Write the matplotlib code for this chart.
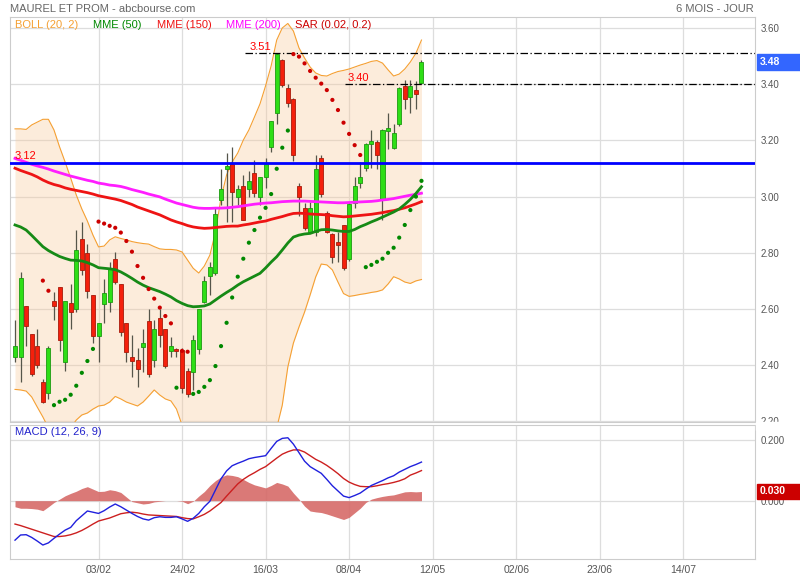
import matplotlib
matplotlib.use('Agg')
import matplotlib.pyplot as plt
import numpy as np
from matplotlib.patches import Rectangle

plt.rcParams['font.family'] = ['Liberation Sans', 'DejaVu Sans']

# === Daily candles (MAUREL ET PROM) ===
opens = [2.43, 2.43, 2.61, 2.51, 2.47, 2.34, 2.30, 2.63, 2.68, 2.41,
         2.62, 2.60, 2.85, 2.80, 2.65, 2.505, 2.617, 2.626, 2.778, 2.689,
         2.549, 2.428, 2.417, 2.466, 2.556, 2.417, 2.568, 2.528, 2.449, 2.457,
         2.454, 2.38, 2.377, 2.457, 2.626, 2.717, 2.727, 2.988, 3.097, 3.116,
         2.998, 3.037, 3.026, 3.085, 2.998, 3.069, 3.175, 3.296, 3.486, 3.385,
         3.346, 3.037, 2.958, 2.875, 2.875, 3.136, 2.943, 2.866, 2.84, 2.899,
         2.777, 2.976, 3.047, 3.10, 3.186, 3.196, 2.988, 3.235, 3.174, 3.258,
         3.394, 3.355, 3.38, 3.405]
highs = [2.56, 2.73, 2.61, 2.51, 2.53, 2.35, 2.47, 2.66, 2.68, 2.63,
         2.69, 2.88, 2.91, 2.83, 2.65, 2.55, 2.707, 2.768, 2.804, 2.69,
         2.55, 2.507, 2.46, 2.528, 2.60, 2.56, 2.60, 2.53, 2.50, 2.46,
         2.46, 2.39, 2.507, 2.60, 2.717, 2.766, 2.958, 3.097, 3.156, 3.175,
         3.04, 3.077, 3.09, 3.13, 3.07, 3.136, 3.27, 3.51, 3.49, 3.40,
         3.35, 3.05, 2.976, 2.98, 3.148, 3.148, 2.95, 2.87, 2.875, 2.90,
         2.98, 3.071, 3.124, 3.19, 3.237, 3.20, 3.24, 3.296, 3.26, 3.39,
         3.415, 3.415, 3.41, 3.487]
lows = [2.41, 2.34, 2.47, 2.36, 2.39, 2.265, 2.28, 2.56, 2.45, 2.38,
        2.53, 2.59, 2.72, 2.64, 2.48, 2.41, 2.551, 2.59, 2.69, 2.505,
        2.413, 2.359, 2.323, 2.377, 2.359, 2.395, 2.466, 2.39, 2.43, 2.43,
        2.30, 2.288, 2.312, 2.44, 2.62, 2.65, 2.72, 2.97, 2.911, 2.911,
        2.97, 2.917, 3.0, 3.0, 2.97, 3.03, 3.16, 3.26, 3.39, 3.32,
        3.128, 2.93, 2.88, 2.87, 2.86, 3.0, 2.87, 2.763, 2.768, 2.74,
        2.77, 2.96, 3.03, 3.09, 3.10, 3.097, 2.917, 3.17, 3.17, 3.25,
        3.31, 3.296, 3.31, 3.40]
closes = [2.47, 2.71, 2.54, 2.37, 2.40, 2.27, 2.46, 2.61, 2.49, 2.63,
          2.59, 2.81, 2.74, 2.665, 2.505, 2.55, 2.656, 2.746, 2.697, 2.517,
          2.448, 2.416, 2.388, 2.478, 2.368, 2.528, 2.506, 2.397, 2.468, 2.45,
          2.318, 2.296, 2.489, 2.60, 2.70, 2.748, 2.938, 3.026, 3.109, 3.015,
          3.026, 2.917, 3.057, 3.014, 3.069, 3.116, 3.269, 3.507, 3.397, 3.334,
          3.148, 2.997, 2.887, 2.958, 3.097, 3.009, 2.875, 2.786, 2.828, 2.747,
          2.973, 3.038, 3.071, 3.186, 3.198, 3.148, 3.237, 3.245, 3.225, 3.385,
          3.346, 3.394, 3.365, 3.478]

# === Indicators ===
boll_up = [3.241, 3.241, 3.239, 3.255, 3.265, 3.275, 3.275, 3.237, 3.177, 3.123,
           3.066, 3.006, 2.956, 2.913, 2.863, 2.821, 2.824, 2.846, 2.857, 2.851,
           2.846, 2.840, 2.836, 2.833, 2.831, 2.822, 2.814, 2.812, 2.812, 2.810,
           2.803, 2.774, 2.745, 2.728, 2.753, 2.792, 2.874, 2.995, 3.077, 3.123,
           3.155, 3.201, 3.237, 3.283, 3.330, 3.394, 3.465, 3.557, 3.600, 3.616,
           3.589, 3.529, 3.493, 3.461, 3.440, 3.431, 3.429, 3.438, 3.445, 3.449,
           3.454, 3.461, 3.468, 3.474, 3.481, 3.484, 3.475, 3.451, 3.429, 3.436,
           3.454, 3.479, 3.510, 3.557]
boll_low = [2.314, 2.312, 2.308, 2.287, 2.251, 2.216, 2.177, 2.152, 2.141, 2.152,
            2.177, 2.205, 2.223, 2.230, 2.244, 2.255, 2.258, 2.269, 2.289, 2.280,
            2.269, 2.262, 2.255, 2.269, 2.290, 2.312, 2.294, 2.280, 2.273, 2.244,
            2.187, 2.134, 2.10, 2.07, 2.05, 2.04, 2.00, 1.95, 1.90, 1.88,
            1.87, 1.87, 1.88, 1.90, 1.93, 1.98, 2.05, 2.177, 2.258, 2.394,
            2.479, 2.536, 2.589, 2.650, 2.714, 2.760, 2.757, 2.739, 2.696, 2.655,
            2.645, 2.648, 2.652, 2.655, 2.659, 2.662, 2.668, 2.689, 2.715, 2.707,
            2.696, 2.691, 2.700, 2.705]
mme50 = [2.899, 2.892, 2.881, 2.862, 2.842, 2.822, 2.808, 2.797, 2.787, 2.780,
         2.774, 2.773, 2.771, 2.765, 2.757, 2.747, 2.745, 2.743, 2.740, 2.732,
         2.721, 2.709, 2.696, 2.685, 2.676, 2.669, 2.662, 2.653, 2.643, 2.630,
         2.620, 2.612, 2.608, 2.609, 2.611, 2.618, 2.632, 2.646, 2.659, 2.671,
         2.685, 2.697, 2.707, 2.717, 2.727, 2.746, 2.767, 2.786, 2.810, 2.835,
         2.856, 2.863, 2.867, 2.869, 2.876, 2.882, 2.883, 2.881, 2.878, 2.876,
         2.876, 2.883, 2.893, 2.901, 2.910, 2.918, 2.927, 2.936, 2.945, 2.956,
         2.972, 2.990, 3.011, 3.035]
mme150 = [3.101, 3.093, 3.086, 3.079, 3.070, 3.059, 3.050, 3.043, 3.038, 3.031,
          3.026, 3.022, 3.018, 3.014, 3.009, 3.003, 2.999, 2.995, 2.991, 2.986,
          2.979, 2.972, 2.963, 2.956, 2.949, 2.942, 2.935, 2.926, 2.917, 2.910,
          2.904, 2.897, 2.892, 2.889, 2.887, 2.888, 2.890, 2.892, 2.894, 2.895,
          2.895, 2.899, 2.902, 2.906, 2.910, 2.913, 2.919, 2.924, 2.929, 2.935,
          2.940, 2.941, 2.940, 2.938, 2.937, 2.936, 2.935, 2.932, 2.930, 2.928,
          2.929, 2.931, 2.933, 2.935, 2.937, 2.940, 2.943, 2.947, 2.950, 2.955,
          2.960, 2.967, 2.974, 2.982]
mme200 = [3.136, 3.129, 3.122, 3.115, 3.109, 3.104, 3.098, 3.091, 3.085, 3.079,
          3.073, 3.068, 3.063, 3.058, 3.054, 3.048, 3.045, 3.041, 3.039, 3.036,
          3.031, 3.025, 3.020, 3.015, 3.009, 3.004, 2.999, 2.991, 2.984, 2.977,
          2.972, 2.967, 2.962, 2.959, 2.958, 2.958, 2.959, 2.959, 2.960, 2.962,
          2.964, 2.967, 2.970, 2.973, 2.975, 2.977, 2.978, 2.980, 2.982, 2.983,
          2.984, 2.984, 2.984, 2.983, 2.982, 2.981, 2.980, 2.979, 2.978, 2.978,
          2.979, 2.980, 2.981, 2.982, 2.983, 2.985, 2.988, 2.990, 2.993, 2.997,
          3.001, 3.005, 3.008, 3.012]
# SAR starts at candle 5
sar_start = 5
sar = [2.701, 2.665, 2.258, 2.270, 2.277, 2.295, 2.327, 2.373, 2.415, 2.458,
       2.911, 2.904, 2.896, 2.889, 2.872, 2.842, 2.804, 2.753, 2.711, 2.671,
       2.637, 2.605, 2.575, 2.549, 2.320, 2.451, 2.448, 2.298, 2.305, 2.323,
       2.347, 2.397, 2.468, 2.551, 2.641, 2.715, 2.779, 2.836, 2.881, 2.925,
       2.960, 3.009, 3.099, 3.174, 3.235, 3.507, 3.498, 3.474, 3.447, 3.423,
       3.402, 3.379, 3.344, 3.308, 3.263, 3.223, 3.183, 3.148, 2.749, 2.757,
       2.768, 2.779, 2.800, 2.818, 2.854, 2.899, 2.952, 3.000, 3.056]

macd = [-0.130, -0.113, -0.112, -0.121, -0.133, -0.146, -0.139, -0.124, -0.110, -0.097,
        -0.088, -0.066, -0.050, -0.034, -0.038, -0.042, -0.033, -0.021, -0.011, -0.020,
        -0.031, -0.042, -0.052, -0.060, -0.064, -0.056, -0.053, -0.055, -0.055, -0.053,
        -0.060, -0.068, -0.058, -0.042, -0.020, -0.002, 0.035, 0.072, 0.098, 0.115,
        0.123, 0.130, 0.138, 0.142, 0.145, 0.148, 0.172, 0.195, 0.205, 0.207,
        0.186, 0.158, 0.130, 0.112, 0.101, 0.090, 0.070, 0.049, 0.032, 0.015,
        0.010, 0.017, 0.025, 0.038, 0.050, 0.058, 0.066, 0.075, 0.082, 0.094,
        0.103, 0.112, 0.119, 0.127]
signal = [-0.077, -0.082, -0.088, -0.094, -0.100, -0.106, -0.112, -0.118, -0.118, -0.116,
          -0.112, -0.106, -0.098, -0.088, -0.077, -0.067, -0.062, -0.057, -0.050, -0.043,
          -0.040, -0.038, -0.040, -0.044, -0.047, -0.048, -0.049, -0.050, -0.051, -0.052,
          -0.056, -0.059, -0.060, -0.053, -0.045, -0.034, -0.020, -0.006, 0.015, 0.035,
          0.055, 0.070, 0.082, 0.092, 0.103, 0.112, 0.126, 0.140, 0.153, 0.161,
          0.167, 0.167, 0.160, 0.148, 0.136, 0.127, 0.116, 0.103, 0.089, 0.073,
          0.061, 0.053, 0.047, 0.046, 0.046, 0.049, 0.053, 0.056, 0.060, 0.065,
          0.072, 0.084, 0.091, 0.099]
hist = [-0.020, -0.025, -0.025, -0.026, -0.028, -0.033, -0.020, -0.006, 0.005, 0.016,
        0.024, 0.031, 0.040, 0.046, 0.038, 0.030, 0.031, 0.036, 0.033, 0.027,
        0.012, -0.003, -0.007, -0.011, -0.009, -0.004, -0.002, 0.000, 0.000, 0.000,
        -0.002, -0.010, -0.002, 0.015, 0.030, 0.050, 0.066, 0.078, 0.085, 0.083,
        0.079, 0.070, 0.060, 0.052, 0.047, 0.042, 0.050, 0.060, 0.055, 0.048,
        0.025, 0.005, -0.018, -0.034, -0.037, -0.039, -0.044, -0.050, -0.056, -0.062,
        -0.055, -0.040, -0.025, -0.006, 0.005, 0.010, 0.014, 0.017, 0.019, 0.024,
        0.029, 0.030, 0.029, 0.030]

# === Axis labels / levels ===
tick_idx = [15, 30, 45, 60, 75, 90, 105, 120]
tick_labels = ["03/02", "24/02", "16/03", "08/04", "12/05", "02/06", "23/06", "14/07"]
price_ticks = [2.20, 2.40, 2.60, 2.80, 3.00, 3.20, 3.40, 3.60]
macd_ticks = [0.0, 0.2]
level_blue = 3.12
level_high = 3.51
level_mid = 3.40
last_price = 3.48
last_macd = 0.030

W, H = 800, 580
def fx(px): return px / W
def fy(py): return 1 - py / H

fig = plt.figure(figsize=(8, 5.8), dpi=100)
ax = fig.add_axes([fx(10), fy(422), fx(745), 405 / H])
axm = fig.add_axes([fx(10), fy(559), fx(745), 134 / H])

x = np.arange(len(closes))
o, h, l, c = map(np.array, (opens, highs, lows, closes))
xmin, xmax = -0.9, 132.9

for a in (ax, axm):
    a.set_xlim(xmin, xmax)
    a.set_axisbelow(True)
    a.grid(True, color='#dddddd', lw=0.9)
    for s in a.spines.values():
        s.set_color('#cccccc')
    a.yaxis.tick_right()
    a.tick_params(axis='y', length=0, pad=4, labelsize=7, labelcolor='#555555')
    a.set_xticks(tick_idx)

# === Price panel ===
ax.set_ylim(2.198, 3.639)
ax.set_yticks(price_ticks)
ax.set_yticklabels(["%.2f" % v for v in price_ticks])
ax.tick_params(axis='x', length=0, labelbottom=False)

ax.fill_between(x, boll_low, boll_up, color='#f9c999', alpha=0.35, lw=0, zorder=1)
ax.plot(x, boll_up, color='#f5a033', lw=0.8, zorder=1.5)
ax.plot(x, boll_low, color='#f5a033', lw=0.8, zorder=1.5)

up = c >= o
ax.vlines(x, l, h, color='#55554a', lw=0.9, zorder=2.8)
body = np.maximum(np.abs(c - o), 0.004)
ax.bar(x[up], body[up], bottom=np.minimum(o, c)[up], width=0.72,
       color='#2ede16', edgecolor='#1c9a10', lw=0.6, zorder=3)
ax.bar(x[~up], body[~up], bottom=np.minimum(o, c)[~up], width=0.72,
       color='#f4200c', edgecolor='#a81a0a', lw=0.6, zorder=3)

ax.plot(x, mme200, color='#ff1eff', lw=2, zorder=3.5)
ax.plot(x, mme150, color='#ee1414', lw=2, zorder=3.5)
ax.plot(x, mme50, color='#168a16', lw=2, zorder=3.5)

sx = np.arange(sar_start, sar_start + len(sar))
sv = np.array(sar)
sar_col = np.where(sv < c[sx], '#008800', '#cc0000')
ax.scatter(sx, sv, s=9, c=sar_col, lw=0, zorder=5)

ax.axhline(level_blue, color='#0000ff', lw=2, zorder=4)
ax.text(0, level_blue + 0.012, "%.2f" % level_blue, color='#ff0000', fontsize=8, zorder=6)
dashdot = (0, (6, 2, 1, 2))
ax.hlines(level_high, 41.3, xmax, colors='black', lw=0.9, linestyles=[dashdot], zorder=4)
ax.text(42.2, level_high + 0.01, "%.2f" % level_high, color='#ff0000', fontsize=8, zorder=6)
ax.hlines(level_mid, 59.3, xmax, colors='black', lw=0.9, linestyles=[dashdot], zorder=4)
ax.text(59.8, level_mid + 0.01, "%.2f" % level_mid, color='#ff0000', fontsize=8, zorder=6)

# === MACD panel ===
axm.set_ylim(-0.192, 0.249)
axm.set_yticks(macd_ticks)
axm.set_yticklabels(["%.3f" % v for v in macd_ticks])
axm.set_xticklabels(tick_labels)
axm.tick_params(axis='x', length=0, pad=4, labelsize=7.5, labelcolor='#555555')
axm.fill_between(x, 0, hist, color='#d66a68', alpha=0.9, lw=0, zorder=2)
axm.plot(x, signal, color='#cc1f1f', lw=1, zorder=3)
axm.plot(x, macd, color='#2020dd', lw=1, zorder=3)
axm.text(0, 0.225, "MACD (12, 26, 9)", color='#2222cc', fontsize=8, va='center')

# === Header and legend ===
fig.text(fx(10), fy(9), "MAUREL ET PROM - abcbourse.com", color='#666666', fontsize=8, va='center')
fig.text(fx(754), fy(9), "6 MOIS - JOUR", color='#666666', fontsize=8, va='center', ha='right')
legend = [("BOLL (20, 2)", '#f5a033', 15), ("MME (50)", '#008800', 93),
          ("MME (150)", '#ee1111', 157), ("MME (200)", '#ff00ff', 226),
          ("SAR (0.02, 0.2)", '#cc0000', 295)]
for txt, col, px in legend:
    fig.text(fx(px), fy(25), txt, color=col, fontsize=8, va='center')

# hide lower half of the clipped 2.20 label
fig.add_artist(Rectangle((fx(756), fy(430)), fx(44), 8 / H, transform=fig.transFigure,
                         color='white', zorder=5))
# last value boxes
fig.add_artist(Rectangle((fx(757), fy(70)), fx(43), 16 / H, transform=fig.transFigure,
                         color='#3366ff', zorder=6))
fig.text(fx(760), fy(62), "%.2f" % last_price, color='white', fontsize=7.5,
         fontweight='bold', va='center', zorder=7)
fig.add_artist(Rectangle((fx(757), fy(499)), fx(43), 15 / H, transform=fig.transFigure,
                         color='#cc0000', zorder=6))
fig.text(fx(760), fy(491.5), "%.3f" % last_macd, color='white', fontsize=7.5,
         fontweight='bold', va='center', zorder=7)

fig.savefig('out.png', dpi=100)
